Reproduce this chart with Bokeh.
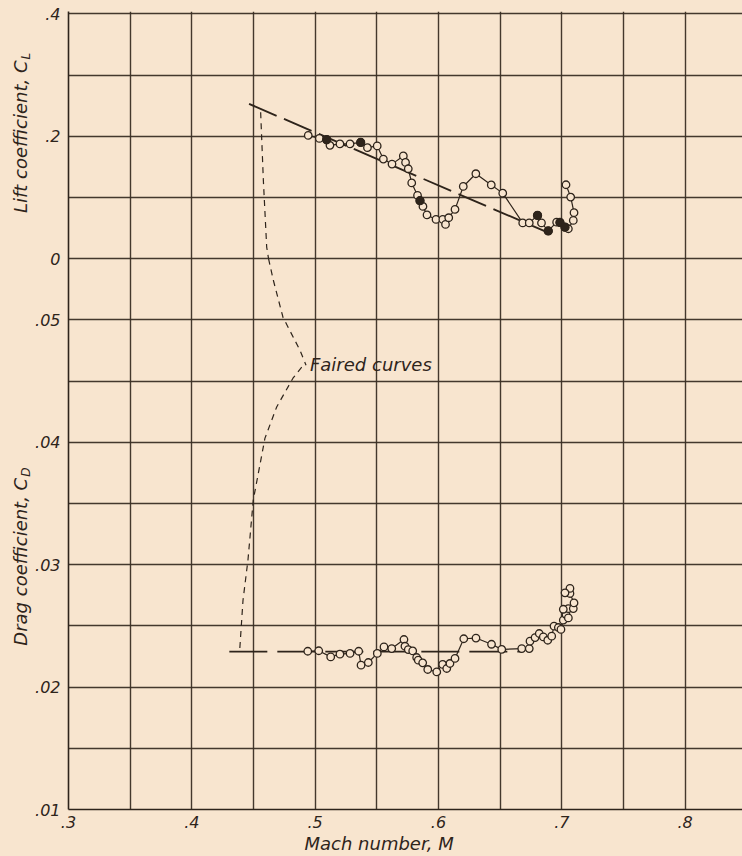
from bokeh.plotting import figure
from bokeh.layouts import row
from bokeh.models import Range1d, FixedTicker, CustomJSTickFormatter, Label, Title
from bokeh.embed import file_html
from bokeh.resources import INLINE
import math

# ---------------- data ----------------
mach_ticks = [0.3, 0.4, 0.5, 0.6, 0.7, 0.8]
mach_grid = [0.30, 0.35, 0.40, 0.45, 0.50, 0.55, 0.60, 0.65, 0.70, 0.75, 0.80]
cl_ticks = [0.0, 0.2, 0.4]
cl_grid = [0.0, 0.1, 0.2, 0.3, 0.4]
cd_ticks = [0.01, 0.02, 0.03, 0.04, 0.05]
cd_grid = [0.010, 0.015, 0.020, 0.025, 0.030, 0.035, 0.040, 0.045, 0.050]

lift_mach = [0.4944, 0.5034, 0.5094, 0.5120, 0.5201, 0.5283, 0.5369, 0.5424, 0.5503, 0.5553,
             0.5623, 0.5715, 0.5733, 0.5755, 0.5783, 0.5830, 0.5850, 0.5874, 0.5907, 0.5980,
             0.6035, 0.6057, 0.6083, 0.6134, 0.6201, 0.6303, 0.6428, 0.6521, 0.6683, 0.6736,
             0.6803, 0.6835, 0.6890, 0.6958, 0.6985, 0.7026, 0.7053, 0.7093, 0.7099, 0.7072,
             0.7034]
lift_cl = [0.2015, 0.1966, 0.1944, 0.1853, 0.1876, 0.1876, 0.1900, 0.1815, 0.1843, 0.1629,
           0.1546, 0.1680, 0.1574, 0.1470, 0.1239, 0.1034, 0.0948, 0.0855, 0.0716, 0.0642,
           0.0642, 0.0560, 0.0670, 0.0806, 0.1181, 0.1389, 0.1206, 0.1072, 0.0585, 0.0585,
           0.0708, 0.0585, 0.0454, 0.0598, 0.0593, 0.0516, 0.0490, 0.0626, 0.0752, 0.1007,
           0.1209]
lift_filled_mach = [0.5094, 0.5369, 0.5850, 0.6803, 0.6890, 0.6985, 0.7026]
lift_filled_cl = [0.1944, 0.1900, 0.0948, 0.0708, 0.0454, 0.0593, 0.0516]
lift_fair_mach = [0.4464, 0.6880]
lift_fair_cl = [0.253, 0.0435]

drag_mach = [0.4940, 0.5029, 0.5126, 0.5201, 0.5283, 0.5353, 0.5372, 0.5431, 0.5504, 0.5558,
             0.5621, 0.5720, 0.5728, 0.5755, 0.5791, 0.5823, 0.5836, 0.5872, 0.5913, 0.5986,
             0.6034, 0.6067, 0.6093, 0.6134, 0.6205, 0.6304, 0.6430, 0.6513, 0.6675, 0.6736,
             0.6742, 0.6783, 0.6817, 0.6850, 0.6886, 0.6918, 0.6937, 0.6972, 0.6993, 0.7012,
             0.7034, 0.7053, 0.7053, 0.7012, 0.7093, 0.7099, 0.7066, 0.7066, 0.7026]
drag_cd = [0.02293, 0.02297, 0.02247, 0.02269, 0.02275, 0.02293, 0.02179, 0.02201, 0.02275, 0.02328,
           0.02315, 0.02389, 0.02334, 0.02307, 0.02296, 0.02242, 0.02220, 0.02198, 0.02144, 0.02124,
           0.02185, 0.02152, 0.02193, 0.02234, 0.02395, 0.02401, 0.02350, 0.02308, 0.02315, 0.02315,
           0.02375, 0.02405, 0.02438, 0.02410, 0.02383, 0.02416, 0.02498, 0.02487, 0.02471, 0.02547,
           0.02593, 0.02565, 0.02642, 0.02636, 0.02642, 0.02688, 0.02765, 0.02806, 0.02770]
drag_fair_mach = [0.4304, 0.6675]
drag_fair_cd = [0.0229, 0.0229]

# leader lines of the note (upper part in lift units, lower part in drag units)
leader_top_mach = [0.4558, 0.4580, 0.4607, 0.4622]
leader_top_cl = [0.2395, 0.128, 0.019, 0.0]
leader_up_mach = [0.4622, 0.4661, 0.4739, 0.4877, 0.4926]
leader_up_cd = [0.0550, 0.05324, 0.05022, 0.04752, 0.04630]
leader_low_mach = [0.4891, 0.4820, 0.4688, 0.4593, 0.4498, 0.4455, 0.4415, 0.4387]
leader_low_cd = [0.04614, 0.04524, 0.04289, 0.04034, 0.03527, 0.03037, 0.0271, 0.02285]

note_text = "Faired curves"
note_mach = 0.4958
note_cd = 0.04638

# the lift scale shares the sheet: lift 0 sits on drag .055, one lift 0.1 = one drag .005 cell
CD_AT_CL0 = 0.055
CD_PER_CL = 0.05
cd_min, cd_max = 0.01, 0.0752


def cl_to_cd(v):
    return CD_AT_CL0 + v * CD_PER_CL


# ---------------- style ----------------
PAPER = "#f8e5cf"
INK = "#2e241b"
GRID = "#3a2e24"
FONT = "DejaVu Sans"
TOP, BOTTOM = 11, 47
LABEL_W = 32

yr = Range1d(cd_min, cd_max)
clr = Range1d((cd_min - CD_AT_CL0) / CD_PER_CL, (cd_max - CD_AT_CL0) / CD_PER_CL)

p = figure(width=742 - LABEL_W, height=856, x_range=Range1d(0.3, 0.8465), y_range=yr,
           output_backend="svg", toolbar_location=None, title=None,
           min_border_left=68 - LABEL_W, min_border_right=0, min_border_top=TOP,
           min_border_bottom=BOTTOM)
p.extra_y_ranges = {"cl": clr}

p.background_fill_color = PAPER
p.border_fill_color = PAPER
p.outline_line_color = None

p.xgrid.ticker = FixedTicker(ticks=mach_grid)
p.ygrid.ticker = FixedTicker(ticks=cd_grid + [cl_to_cd(v) for v in cl_grid])
for g in (p.xgrid, p.ygrid):
    g.grid_line_color = GRID
    g.grid_line_width = 1.4
    g.grid_line_alpha = 0.95

p.xaxis.ticker = FixedTicker(ticks=mach_ticks)
p.yaxis.ticker = FixedTicker(ticks=cd_ticks + [cl_to_cd(v) for v in cl_ticks])
p.xaxis.formatter = CustomJSTickFormatter(code="""
return (Math.round(tick * 100) / 100).toString().replace(/^0\\./, ".");
""")
p.yaxis.formatter = CustomJSTickFormatter(args=dict(c0=CD_AT_CL0, k=CD_PER_CL), code="""
if (tick > c0 - 0.0005) {
  const cl = (tick - c0) / k;
  if (Math.abs(cl) < 1e-6) { return "0"; }
  return (Math.round(cl * 100) / 100).toString().replace(/^0\\./, ".");
}
return (Math.round(tick * 1000) / 1000).toString().replace(/^0\\./, ".");
""")
for ax in p.axis:
    ax.axis_line_color = INK
    ax.axis_line_width = 1.6
    ax.major_tick_line_color = None
    ax.minor_tick_line_color = None
    ax.major_tick_out = 0
    ax.major_tick_in = 0
    ax.minor_tick_out = 0
    ax.major_label_text_font = FONT
    ax.major_label_text_font_style = "italic"
    ax.major_label_text_font_size = "16px"
    ax.major_label_text_color = INK
p.yaxis.major_label_standoff = 8
p.xaxis.major_label_standoff = 6

# lift
p.line(lift_fair_mach, lift_fair_cl, y_range_name="cl", line_color=INK, line_width=1.9,
       line_dash="30 8")
p.line(leader_top_mach, leader_top_cl, y_range_name="cl", line_color=INK, line_width=1.2,
       line_dash="6 5")
p.line(lift_mach, lift_cl, y_range_name="cl", line_color=INK, line_width=1.2)
p.scatter(lift_mach, lift_cl, y_range_name="cl", marker="circle", size=7.5, line_color=INK,
          line_width=1.3, fill_color=PAPER)
p.scatter(lift_filled_mach, lift_filled_cl, y_range_name="cl", marker="circle", size=8,
          line_color=INK, line_width=1.3, fill_color=INK)

# drag
p.line(drag_fair_mach, drag_fair_cd, line_color=INK, line_width=1.9, line_dash="38 10")
p.line(leader_up_mach, leader_up_cd, line_color=INK, line_width=1.2, line_dash="6 5")
p.line(leader_low_mach, leader_low_cd, line_color=INK, line_width=1.2, line_dash="6 5")
p.line(drag_mach, drag_cd, line_color=INK, line_width=1.2)
p.scatter(drag_mach, drag_cd, marker="circle", size=7.5, line_color=INK,
          line_width=1.3, fill_color=PAPER)

p.add_layout(Label(x=note_mach, y=note_cd, text=note_text, text_align="left",
                   text_baseline="middle", text_font=FONT, text_font_style="italic",
                   text_font_size="18px", text_color=INK))

p.add_layout(Title(text="Mach number, M", align="left", offset=236, standoff=0,
                   text_font=FONT, text_font_style="italic", text_font_size="18px",
                   text_color=INK), "below")

# narrow strip on the left carrying the two vertical axis titles
lab = figure(width=LABEL_W, height=856, x_range=Range1d(0, LABEL_W), y_range=yr,
             output_backend="svg", toolbar_location=None, title=None,
             x_axis_location=None, y_axis_location=None,
             min_border_left=0, min_border_right=0, min_border_top=TOP,
             min_border_bottom=BOTTOM)
lab.extra_y_ranges = {"cl": clr}
lab.background_fill_color = PAPER
lab.border_fill_color = PAPER
lab.outline_line_color = None
lab.xgrid.visible = False
lab.ygrid.visible = False


def side_label(main, sub, y, rng):
    kw = dict(angle=math.pi / 2, text_baseline="middle", text_font=FONT,
              text_font_style="italic", text_color=INK)
    if rng:
        kw["y_range_name"] = rng
    lab.add_layout(Label(x=20, y=y, text=main, text_align="right",
                         text_font_size="18px", **kw))
    lab.add_layout(Label(x=25, y=y, y_offset=1, text=sub, text_align="left",
                         text_font_size="12px", **kw))


side_label("Lift coefficient, C", "L", 0.324, "cl")
side_label("Drag coefficient, C", "D", 0.0371, None)

layout = row(lab, p, spacing=0)
layout.styles = {"background-color": PAPER}
for f in (lab, p):
    f.styles = {"background-color": PAPER}

open("out.html", "w").write(file_html(layout, INLINE))
